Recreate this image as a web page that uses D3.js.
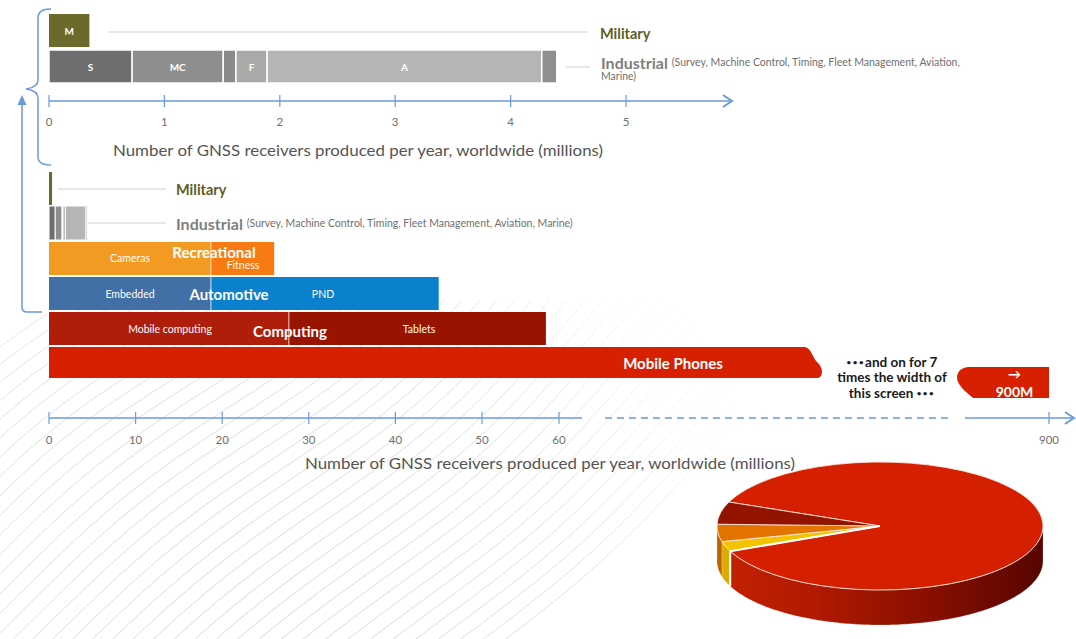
<!DOCTYPE html>
<html>
<head>
<meta charset="utf-8">
<script src="https://cdn.jsdelivr.net/npm/d3@7"></script>
<style>
  html, body { margin: 0; padding: 0; background: #fff; }
  svg { display: block; font-family: Lato, "Open Sans", sans-serif; }
</style>
</head>
<body>
<svg id="chart" width="1076" height="639"></svg>
<script>
// ---- data (millions of GNSS receivers per year) ----
const topTicks = [0, 1, 2, 3, 4, 5];
const bottomTicks = [0, 10, 20, 30, 40, 50, 60, 900];

const militaryValue = 0.35;

const industrialLabels = ["S", "MC", "", "F", "A", ""];
const industrialValues = [0.72, 0.79, 0.11, 0.27, 2.38, 0.13];

const recreationalLabels = ["Cameras", "Fitness"];
const recreationalValues = [18.7, 7.3];

const automotiveLabels = ["Embedded", "PND"];
const automotiveValues = [18.7, 26.3];

const computingLabels = ["Mobile computing", "Tablets"];
const computingValues = [27.7, 30.6];

const mobilePhonesValue = 900;

// ---- styles ----
const industrialColors = ["#6e6e6e", "#8e8e8e", "#8a8a8a", "#a9a9a9", "#b5b5b5", "#8f8f8f"];
const recreationalColors = ["#f39a22", "#f77a12"];
const automotiveColors = ["#416fa6", "#0b80cc"];
const computingColors = ["#ae1e0a", "#991400"];
const olive = "#6b6a2c";
const phoneRed = "#d62000";
const axisBlue = "#6a9ad8";

const svg = d3.select("#chart");
const defs = svg.append("defs");

// ---- faint contour background in the lower left ----
const radial = defs.append("radialGradient").attr("id", "fadeGrad")
  .attr("gradientUnits", "userSpaceOnUse").attr("cx", 250).attr("cy", 620).attr("r", 540);
radial.append("stop").attr("offset", 0).attr("stop-color", "#fff").attr("stop-opacity", 1);
radial.append("stop").attr("offset", 0.6).attr("stop-color", "#fff").attr("stop-opacity", 0.75);
radial.append("stop").attr("offset", 1).attr("stop-color", "#fff").attr("stop-opacity", 0);
const mask = defs.append("mask").attr("id", "fadeMask");
mask.append("rect").attr("y", 300).attr("width", 1076).attr("height", 339).attr("fill", "url(#fadeGrad)");

const contour = svg.append("g").attr("mask", "url(#fadeMask)")
  .attr("fill", "none").attr("stroke", "#d2d2d2").attr("stroke-width", 0.9);
const wave = d3.line().curve(d3.curveBasis);
d3.range(40).forEach(i => {
  const x0 = -380 + i * 21;
  const pts = d3.range(0, 1.001, 0.05).map(t => {
    const bx = x0 + t * 560, by = 690 - t * 480;
    const w = 16 * Math.sin(t * Math.PI * 2.4 + i * 0.16) * (0.3 + t);
    return [bx + w * 0.7, by + w * 0.7];
  });
  contour.append("path").attr("d", wave(pts));
});

// ---- scales ----
const topX = d3.scaleLinear().domain([0, 5]).range([49, 626]);
const bottomX = d3.scaleLinear().domain([0, 50, 60, 900]).range([49, 482, 559, 1049]);

// stacked horizontal bar helper
function stack(g, scale, values, colors, y, h, sep) {
  let acc = 0;
  const segs = values.map((v, i) => {
    const s = { x0: acc, x1: acc + v, color: colors[i], i };
    acc += v;
    return s;
  });
  g.selectAll(null).data(segs).enter().append("rect")
    .attr("x", d => scale(d.x0))
    .attr("y", y)
    .attr("width", d => Math.max(1, scale(d.x1) - scale(d.x0)))
    .attr("height", h)
    .attr("fill", d => d.color)
    .attr("stroke", sep ? "#fff" : "none")
    .attr("stroke-width", sep || 0);
  return segs;
}

function label(g, x, y, txt, size, weight, color, anchor) {
  return g.append("text").attr("x", x).attr("y", y)
    .attr("dominant-baseline", "central")
    .attr("text-anchor", anchor || "middle")
    .attr("font-size", size).attr("font-weight", weight || 400)
    .attr("fill", color || "#fff").text(txt);
}

// =============== upper detail chart (0 - 5 M) ===============
const upper = svg.append("g");

// bracket on the left
upper.append("path")
  .attr("d", "M51,9 C43,9 38,11 38,18 L38,80 C38,86 33,88 26,89 C33,90 38,92 38,98 L38,157 C38,163 43,165 51,165")
  .attr("fill", "none").attr("stroke", axisBlue).attr("stroke-width", 1.5);

// military bar
upper.append("rect").attr("x", topX(0)).attr("y", 14)
  .attr("width", topX(militaryValue) - topX(0)).attr("height", 33).attr("fill", olive);
label(upper, (topX(0) + topX(militaryValue)) / 2, 31, "M", 10, 700);

// industrial stacked bar
const indSegs = stack(upper, topX, industrialValues, industrialColors, 50, 33, 1.5);
indSegs.forEach(s => {
  if (industrialLabels[s.i]) label(upper, (topX(s.x0) + topX(s.x1)) / 2, 67, industrialLabels[s.i], 10, 700);
});

// leader lines
upper.append("line").attr("x1", 108).attr("x2", 588).attr("y1", 32).attr("y2", 32)
  .attr("stroke", "#cfcfcf");
upper.append("line").attr("x1", topX(d3.sum(industrialValues)) + 9).attr("x2", 590).attr("y1", 67).attr("y2", 67)
  .attr("stroke", "#cfcfcf");

label(upper, 600, 33, "Military", 14.5, 700, "#5e5d22", "start");
const indTop = label(upper, 601, 62, null, 16, 700, "#7f7f7f", "start");
indTop.append("tspan").text("Industrial ");
indTop.append("tspan").attr("font-size", 10.5).attr("font-weight", 400).attr("fill", "#6f6f6f")
  .text("(Survey, Machine Control, Timing, Fleet Management, Aviation,");
label(upper, 601, 76, "Marine)", 10.5, 400, "#6f6f6f", "start");

// upper axis
const topAxisY = 101;
upper.append("line").attr("x1", topX(0)).attr("x2", 731).attr("y1", topAxisY).attr("y2", topAxisY)
  .attr("stroke", axisBlue).attr("stroke-width", 1.5);
upper.append("path").attr("d", `M723,${topAxisY - 6} L732,${topAxisY} L723,${topAxisY + 6}`)
  .attr("fill", "none").attr("stroke", axisBlue).attr("stroke-width", 2);
upper.selectAll(".tt").data(topTicks).enter().append("line")
  .attr("x1", d => topX(d)).attr("x2", d => topX(d))
  .attr("y1", topAxisY - 6).attr("y2", topAxisY + 6)
  .attr("stroke", axisBlue).attr("stroke-width", 1.2);
upper.selectAll(".tl").data(topTicks).enter().append("text")
  .attr("x", d => topX(d)).attr("y", topAxisY + 20)
  .attr("dominant-baseline", "central").attr("text-anchor", "middle")
  .attr("font-size", 11.5).attr("fill", "#707070").text(d => d);
label(upper, 358, 149, "Number of GNSS receivers produced per year, worldwide (millions)", 16, 400, "#555")
  .attr("textLength", 490).attr("lengthAdjust", "spacingAndGlyphs");

// =============== lower overview chart ===============
const lower = svg.append("g");

// arrow from the lower chart up to the bracket
lower.append("path").attr("d", "M42,312 L27,312 Q22,312 22,307 L22,104")
  .attr("fill", "none").attr("stroke", axisBlue).attr("stroke-width", 1.5);
lower.append("path").attr("d", "M17.5,105 L22,95 L26.5,105 Z").attr("fill", axisBlue);

// military
lower.append("rect").attr("x", bottomX(0)).attr("y", 172)
  .attr("width", Math.max(3, bottomX(militaryValue) - bottomX(0))).attr("height", 33).attr("fill", olive);
lower.append("line").attr("x1", 58).attr("x2", 166).attr("y1", 189).attr("y2", 189).attr("stroke", "#cfcfcf");
label(lower, 176, 189, "Military", 14.5, 700, "#5e5d22", "start");

// industrial
stack(lower, bottomX, industrialValues, industrialColors, 206, 34, 1);
lower.append("line").attr("x1", 88).attr("x2", 166).attr("y1", 223).attr("y2", 223).attr("stroke", "#cfcfcf");
const indBot = label(lower, 176, 223, null, 16, 700, "#7f7f7f", "start");
indBot.append("tspan").text("Industrial ");
indBot.append("tspan").attr("font-size", 10.5).attr("font-weight", 400).attr("fill", "#6f6f6f")
  .text("(Survey, Machine Control, Timing, Fleet Management, Aviation, Marine)");

// recreational
const rec = stack(lower, bottomX, recreationalValues, recreationalColors, 242, 33, 0);
label(lower, 130, 258, recreationalLabels[0], 10.5);
label(lower, 243, 265, recreationalLabels[1], 10.5);
lower.append("line").attr("x1", bottomX(rec[0].x1)).attr("x2", bottomX(rec[0].x1))
  .attr("y1", 242).attr("y2", 275).attr("stroke", "#ffd9b0").attr("stroke-width", 1);
label(lower, 214, 252, "Recreational", 15, 700);

// automotive
const aut = stack(lower, bottomX, automotiveValues, automotiveColors, 277, 33, 0);
lower.append("line").attr("x1", bottomX(aut[0].x1)).attr("x2", bottomX(aut[0].x1))
  .attr("y1", 277).attr("y2", 310).attr("stroke", "#cfe2f5").attr("stroke-width", 1);
label(lower, 130, 294, automotiveLabels[0], 10.5);
label(lower, 323, 294, automotiveLabels[1], 10.5);
label(lower, 229, 294, "Automotive", 15, 700);

// computing
const com = stack(lower, bottomX, computingValues, computingColors, 312, 33, 0);
lower.append("line").attr("x1", bottomX(com[0].x1)).attr("x2", bottomX(com[0].x1))
  .attr("y1", 312).attr("y2", 345).attr("stroke", "#f0c8c0").attr("stroke-width", 1);
label(lower, 170, 329, computingLabels[0], 10.5);
label(lower, 419, 329, computingLabels[1], 10.5);
label(lower, 290, 331, "Computing", 15, 700);

// mobile phones: broken bar running off to 900 M
const p0 = bottomX(0), pEnd = bottomX(mobilePhonesValue);
lower.append("path")
  .attr("d", `M${p0},347 L805,347 C812,349 812,357 817,362 C823,367 824,376 818,378 L${p0},378 Z`)
  .attr("fill", phoneRed);
lower.append("path")
  .attr("d", `M968,367 L${pEnd},367 L${pEnd},398 L973,398 C967,393 961,388 958,382 C955,375 959,368 968,367 Z`)
  .attr("fill", phoneRed);
label(lower, 673, 363, "Mobile Phones", 15, 700);
label(lower, (968 + pEnd) / 2 + 6, 374, "\u2192", 13, 700);
label(lower, (968 + pEnd) / 2 + 6, 391, "900M", 14, 700);

const note = lower.append("g").attr("font-size", 13.5).attr("font-weight", 700).attr("fill", "#1a1a1a")
  .attr("text-anchor", "middle");
const n1 = note.append("text").attr("x", 892).attr("y", 362).attr("dominant-baseline", "central");
n1.append("tspan").attr("font-size", 8).attr("letter-spacing", 1.5).text("\u2022\u2022\u2022");
n1.append("tspan").text("and on for 7");
note.append("text").attr("x", 892).attr("y", 377).attr("dominant-baseline", "central").text("times the width of");
const n3 = note.append("text").attr("x", 892).attr("y", 393).attr("dominant-baseline", "central");
n3.append("tspan").text("this screen ");
n3.append("tspan").attr("font-size", 8).attr("letter-spacing", 1.5).text("\u2022\u2022\u2022");

// lower axis with a break between 60 and 900
const botAxisY = 418;
lower.append("line").attr("x1", bottomX(0)).attr("x2", 582).attr("y1", botAxisY).attr("y2", botAxisY)
  .attr("stroke", axisBlue).attr("stroke-width", 1.5);
lower.append("line").attr("x1", 605).attr("x2", 948).attr("y1", botAxisY).attr("y2", botAxisY)
  .attr("stroke", axisBlue).attr("stroke-width", 1.5).attr("stroke-dasharray", "7,5");
lower.append("line").attr("x1", 965).attr("x2", 1072).attr("y1", botAxisY).attr("y2", botAxisY)
  .attr("stroke", axisBlue).attr("stroke-width", 1.5);
lower.append("path").attr("d", `M1065,${botAxisY - 6} L1074,${botAxisY} L1065,${botAxisY + 6}`)
  .attr("fill", "none").attr("stroke", axisBlue).attr("stroke-width", 2);
lower.selectAll(".bt").data(bottomTicks).enter().append("line")
  .attr("x1", d => bottomX(d)).attr("x2", d => bottomX(d))
  .attr("y1", botAxisY - 6).attr("y2", botAxisY + 6)
  .attr("stroke", axisBlue).attr("stroke-width", 1.2);
lower.selectAll(".bl").data(bottomTicks).enter().append("text")
  .attr("x", d => bottomX(d)).attr("y", botAxisY + 21)
  .attr("dominant-baseline", "central").attr("text-anchor", "middle")
  .attr("font-size", 11.5).attr("fill", "#707070").text(d => d);
label(lower, 550, 462, "Number of GNSS receivers produced per year, worldwide (millions)", 16, 400, "#555")
  .attr("textLength", 490).attr("lengthAdjust", "spacingAndGlyphs");

// =============== 3-D pie of the totals ===============
const pieData = [
  { name: "Mobile Phones", value: mobilePhonesValue, top: "#d42000", side: "url(#redSide)" },
  { name: "Recreational", value: d3.sum(recreationalValues), top: "#f4c300", side: "#dcaa00" },
  { name: "Automotive", value: d3.sum(automotiveValues), top: "#e47400", side: "#c46000" },
  { name: "Computing", value: d3.sum(computingValues), top: "#921300", side: "#6e0c00" }
];
const redSide = defs.append("linearGradient").attr("id", "redSide")
  .attr("gradientUnits", "userSpaceOnUse").attr("x1", 717).attr("x2", 1043).attr("y1", 0).attr("y2", 0);
[[0, "#c42200"], [0.3, "#b01a00"], [0.65, "#880f00"], [1, "#560500"]].forEach(([o, c]) =>
  redSide.append("stop").attr("offset", o).attr("stop-color", c));

const cx = 880, cy = 526, rx = 163, ry = 64, depth = 35;
const deg = Math.PI / 180;
const arcs = d3.pie().sort(null).value(d => d.value)
  .startAngle(-68 * deg).endAngle(292 * deg)(pieData);
const pt = a => [cx + rx * Math.sin(a), cy - ry * Math.cos(a)];
const pieG = svg.append("g");

// side walls (front half only: angles 90..270 deg)
const front = [90 * deg, 270 * deg];
arcs.forEach(a => {
  [-2 * Math.PI, 0, 2 * Math.PI].forEach(off => {
    const s = Math.max(a.startAngle + off, front[0]);
    const e = Math.min(a.endAngle + off, front[1]);
    if (e <= s) return;
    const n = Math.max(2, Math.ceil((e - s) / (1 * deg)));
    const rim = d3.range(n + 1).map(k => pt(s + (e - s) * k / n));
    const base = rim.map(p => [p[0], p[1] + depth]).reverse();
    pieG.append("path")
      .attr("d", "M" + rim.concat(base).map(p => p.join(",")).join("L") + "Z")
      .attr("fill", a.data.side).attr("stroke", "rgba(255,255,255,0.35)").attr("stroke-width", 0.6);
  });
});

// top faces
arcs.forEach(a => {
  const [x0, y0] = pt(a.startAngle), [x1, y1] = pt(a.endAngle);
  const large = a.endAngle - a.startAngle > Math.PI ? 1 : 0;
  pieG.append("path")
    .attr("d", `M${cx},${cy} L${x0},${y0} A${rx},${ry} 0 ${large} 1 ${x1},${y1} Z`)
    .attr("fill", a.data.top)
    .attr("stroke", "rgba(255,235,225,0.85)").attr("stroke-width", 1);
});

// white seam where the big slice meets the small ones
const seam = pt(arcs[0].endAngle);
pieG.append("path")
  .attr("d", `M${cx},${cy} L${seam[0]},${seam[1]} L${seam[0]},${seam[1] + depth}`)
  .attr("fill", "none").attr("stroke", "#fff").attr("stroke-width", 2);
</script>
</body>
</html>
